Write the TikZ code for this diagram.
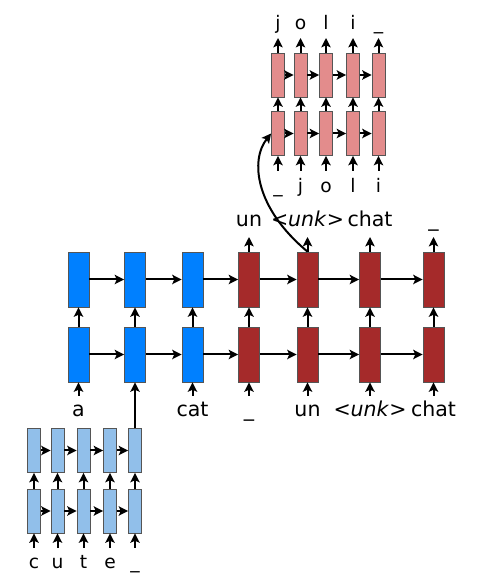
\documentclass[tikz,border=0pt]{standalone}
\usepackage{fontspec}
\setmainfont{DejaVu Sans}
\usetikzlibrary{arrows.meta}
\definecolor{encblue}{HTML}{0080FF}
\definecolor{decred}{HTML}{A52A2A}
\definecolor{charblue}{HTML}{91BFEA}
\definecolor{charred}{HTML}{E38C8C}
\definecolor{edge}{HTML}{555555}
\tikzset{
  bigcell/.style={draw=edge, line width=0.6pt, inner sep=0pt, minimum width=15.75pt, minimum height=41.25pt},
  smallcell/.style={draw=edge, line width=0.6pt, inner sep=0pt, minimum width=9.75pt, minimum height=33pt},
  flow/.style={-{Stealth[length=7pt,width=7pt,inset=1.5pt]}, line width=1.5pt},
  word/.style={anchor=base, inner sep=0pt, font=\fontsize{15.4}{18}\selectfont},
  letter/.style={anchor=base, inner sep=0pt, font=\fontsize{14}{16}\selectfont}
}

\begin{document}
\begin{tikzpicture}[x=0.75pt,y=0.75pt]
	\useasboundingbox (0,0) rectangle (496,578);
	% word level encoder and decoder
	\foreach \i/\x in {1/78.5,2/135,3/192.5}{
		\node[bigcell,fill=encblue] (t\i) at (\x,298.5) {};
		\node[bigcell,fill=encblue] (b\i) at (\x,223.5) {};
	}
	\foreach \i/\x in {4/249,5/307.5,6/370,7/433.5}{
		\node[bigcell,fill=decred] (t\i) at (\x,298.5) {};
		\node[bigcell,fill=decred] (b\i) at (\x,223.5) {};
		\coordinate (out\i) at (\x,341);
		\draw[flow] (t\i.north) -- (out\i);
	}
	\foreach \i in {1,...,7} \draw[flow] (b\i.north) -- (t\i.south);
	\foreach \i [remember=\i as \j (initially 1)] in {2,...,7}{
		\draw[flow] (t\j.east) -- (t\i.west);
		\draw[flow] (b\j.east) -- (b\i.west);
	}
	\foreach \i/\x in {1/78.5,3/192.5,4/249,5/307.5,6/370,7/433.5}{
		\coordinate (in\i) at (\x,182);
		\draw[flow] (in\i) -- (b\i.south);
	}
	\node[word] (w1) at (78.5,161) {a};
	\node[word] (w3) at (192.5,161) {cat};
	\node[word] (w4) at (249,161) {\_};
	\node[word] (w5) at (307.5,161) {un};
	\node[word] (w6) at (370,161) {<\textit{unk}>};
	\node[word] (w7) at (433.5,161) {chat};
	\node[word] (o4) at (249,351) {un};
	\node[word] (o5) at (307.5,351) {<\textit{unk}>};
	\node[word] (o6) at (370,351) {chat};
	\node[word] (o7) at (433.5,351) {\_};
	% character level encoder for the unknown word
	\foreach \i/\x/\c in {1/34/c,2/57.5/u,3/83.5/t,4/110/e,5/135/\_}{
		\node[smallcell,fill=charblue] (ct\i) at (\x,127.5) {};
		\node[smallcell,fill=charblue] (cb\i) at (\x,67) {};
		\coordinate (cin\i) at (\x,30);
		\draw[flow] (cin\i) -- (cb\i.south);
		\draw[flow] (cb\i.north) -- (ct\i.south);
		\node[letter] (cl\i) at (\x,9) {\c};
	}
	\foreach \i [remember=\i as \j (initially 1)] in {2,...,5}{
		\draw[flow] (ct\j.east) -- (ct\i.west);
		\draw[flow] (cb\j.east) -- (cb\i.west);
	}
	\draw[flow] (ct5.north) -- (b2.south);
	% character level decoder
	\foreach \i/\x/\c/\d in {1/278/\_/j,2/300.5/j/o,3/326/o/l,4/353/l/i,5/378.5/i/\_}{
		\node[smallcell,fill=charred] (pt\i) at (\x,503) {};
		\node[smallcell,fill=charred] (pb\i) at (\x,444.5) {};
		\coordinate (pin\i) at (\x,407);
		\coordinate (pout\i) at (\x,540);
		\draw[flow] (pin\i) -- (pb\i.south);
		\draw[flow] (pb\i.north) -- (pt\i.south);
		\draw[flow] (pt\i.north) -- (pout\i);
		\node[letter] (pl\i) at (\x,385) {\c};
		\node[letter] (pu\i) at (\x,548) {\d};
	}
	\foreach \i [remember=\i as \j (initially 1)] in {2,...,5}{
		\draw[flow] (pt\j.east) -- (pt\i.west);
		\draw[flow] (pb\j.east) -- (pb\i.west);
	}
	\draw[flow] (t5.north) .. controls (255,370) and (250,418) .. (pb1.west);
\end{tikzpicture}
\end{document}
